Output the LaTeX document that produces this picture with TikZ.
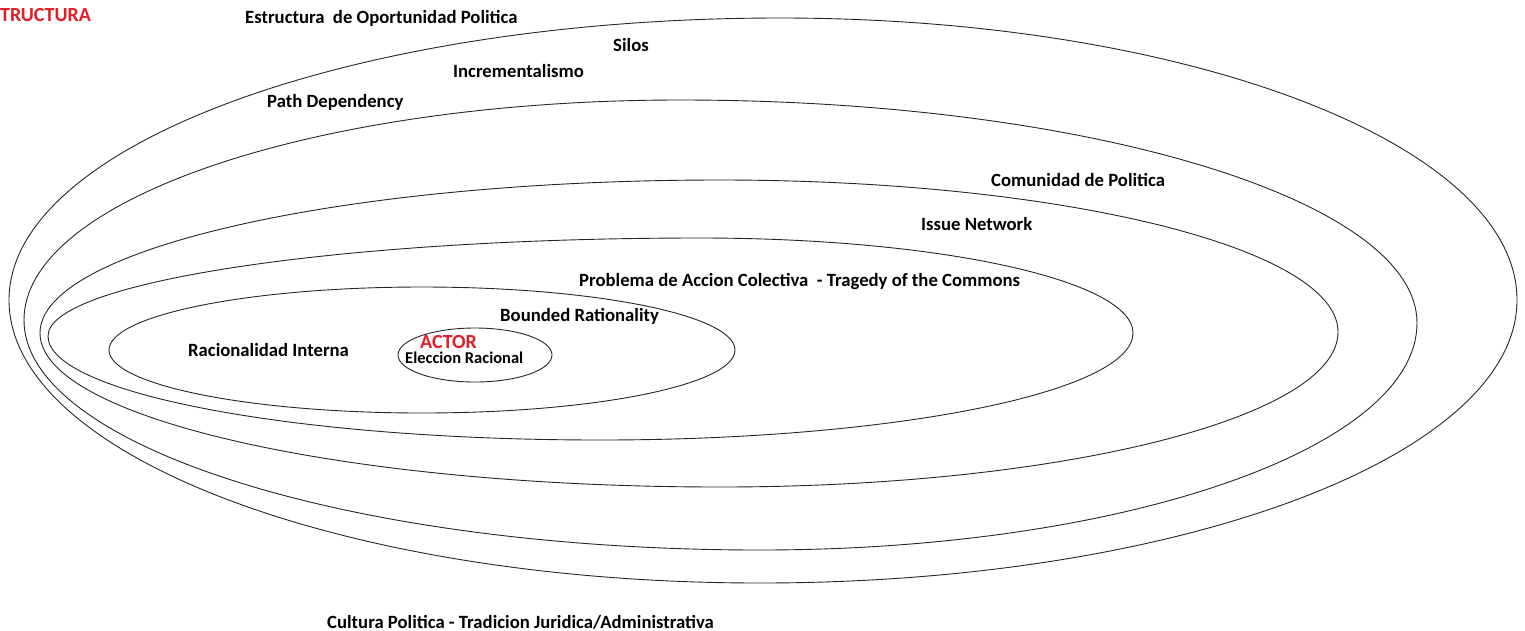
\documentclass[tikz,border=0pt]{standalone}
\usepackage{fontspec}
\setmainfont{Carlito}
\definecolor{rojo}{RGB}{226,30,38}

% ovalo: izquierda (#1,#2), arriba (#3,#4), derecha (#5,#6), abajo (#7,#8)
\newcommand{\ovalo}[8]{%
    (#1,#2) .. controls (#1,{#2-0.5523*(#2-#4)}) and ({#3-0.5523*(#3-#1)},#4) .. (#3,#4)
    .. controls ({#3+0.5523*(#5-#3)},#4) and (#5,{#6-0.5523*(#6-#4)}) .. (#5,#6)
    .. controls (#5,{#6+0.5523*(#8-#6)}) and ({#7+0.5523*(#5-#7)},#8) .. (#7,#8)
    .. controls ({#7-0.5523*(#7-#1)},#8) and (#1,{#2+0.5523*(#8-#2)}) .. cycle}

\begin{document}
\begin{tikzpicture}[
    x=1pt, y=-1pt,
    ring/.style={draw=black!85, line width=0.9pt},
    etiqueta/.style={
        anchor=base west, inner sep=0pt,
        font=\fontsize{18.7}{20}\selectfont\bfseries
    },
    titulo/.style={etiqueta, text=rojo, font=\fontsize{20}{22}\selectfont\bfseries},
]
\useasboundingbox (0,0) rectangle (1525,630);

% Anillos
\draw[ring] \ovalo{9}{300}{780}{18}{1517}{300}{760}{583};
\draw[ring] \ovalo{24}{320}{680}{100}{1417}{323}{760}{550};
\draw[ring] \ovalo{40}{333}{720}{180}{1338}{332}{720}{487};
\draw[ring] \ovalo{48}{336}{700}{238}{1133}{333}{600}{440};
\draw[ring] (422,350) ellipse [x radius=313pt, y radius=63pt];
\draw[ring] (475,355) ellipse [x radius=77pt, y radius=27pt];

% Etiquetas
\node[titulo]   (estructura)  at (0,21)    {TRUCTURA};
\node[etiqueta] (oportunidad) at (245,23)  {Estructura~~de Oportunidad Politica};
\node[etiqueta] (silos)       at (613,51)  {Silos};
\node[etiqueta] (incremental) at (453,77)  {Incrementalismo};
\node[etiqueta] (path)        at (267,107) {Path Dependency};
\node[etiqueta] (comunidad)   at (991,186) {Comunidad de Politica};
\node[etiqueta] (issue)       at (921,230) {Issue Network};
\node[etiqueta] (problema)    at (579,286)
    {Problema de Accion Colectiva~~- Tragedy of the Commons};
\node[etiqueta] (bounded)     at (500,321) {Bounded Rationality};
\node[etiqueta] (interna)     at (188,356) {Racionalidad Interna};
\node[titulo]   (actor)       at (420,348) {ACTOR};
\node[etiqueta, font=\fontsize{16.5}{18}\selectfont\bfseries]
                (eleccion)    at (405,363) {Eleccion Racional};
\node[etiqueta] (cultura)     at (327,628)
    {Cultura Politica - Tradicion Juridica/Administrativa};
\end{tikzpicture}
\end{document}
